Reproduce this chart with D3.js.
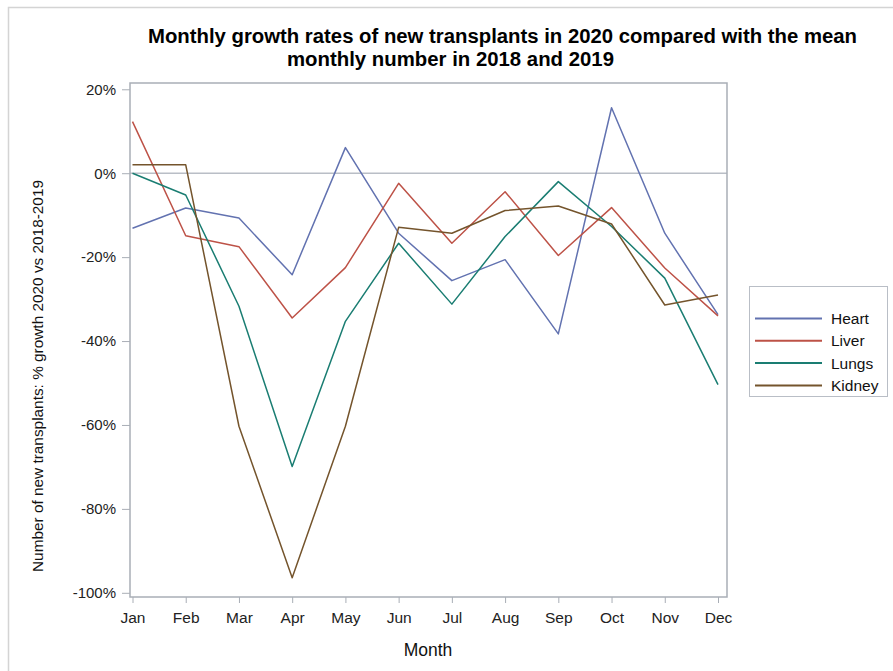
<!DOCTYPE html>
<html><head><meta charset="utf-8">
<script src="https://cdn.jsdelivr.net/npm/d3@7"></script>
<style>body{margin:0;background:#fff;} svg{display:block;font-family:"Liberation Sans",Arial,sans-serif;}</style>
</head><body>
<script>
const months = ["Jan","Feb","Mar","Apr","May","Jun","Jul","Aug","Sep","Oct","Nov","Dec"];
const heart  = [-13.1, -8.3, -10.7, -24.2, 6.1, -14.3, -25.6, -20.6, -38.3, 15.6, -14.3, -33.7];
const liver  = [12.3, -14.9, -17.5, -34.5, -22.5, -2.4, -16.7, -4.4, -19.6, -8.2, -22.6, -34.0];
const lungs  = [0.0, -5.2, -31.7, -69.9, -35.3, -16.7, -31.2, -15.1, -2.0, -12.7, -25.0, -50.4];
const kidney = [2.0, 2.0, -60.3, -96.4, -60.3, -12.9, -14.3, -8.9, -7.8, -12.1, -31.4, -29.0];
const seriesNames = ["Heart","Liver","Lungs","Kidney"];
const seriesColors = ["#6272b0","#bd5247","#1a7d72","#74542c"];
const yTicks = [20, 0, -20, -40, -60, -80, -100];

const series = [heart, liver, lungs, kidney].map((v,i)=>({name:seriesNames[i], color:seriesColors[i], values:v}));

const W = 893, H = 671;
const svg = d3.select("body").append("svg").attr("width", W).attr("height", H);

// outer border
svg.append("rect").attr("x",8.5).attr("y",7.5).attr("width",W+20).attr("height",H+20)
  .attr("fill","none").attr("stroke","#d4d4d4").attr("stroke-width",1.5);

const pL = 130, pR = 727, pT = 83, pB = 597;
const x = d3.scalePoint().domain(months).range([132.5, 718]);
const y = d3.scaleLinear().domain([-101, 21.5]).range([pB, pT]);

// title
svg.append("text").attr("x", 502.5).attr("y", 43).attr("text-anchor","middle")
  .attr("font-weight","bold").attr("font-size",20).attr("fill","#000")
  .attr("textLength",709).attr("lengthAdjust","spacingAndGlyphs")
  .text("Monthly growth rates of new transplants in 2020 compared with the mean");
svg.append("text").attr("x", 450.5).attr("y", 66).attr("text-anchor","middle")
  .attr("font-weight","bold").attr("font-size",20).attr("fill","#000")
  .attr("textLength",327).attr("lengthAdjust","spacingAndGlyphs")
  .text("monthly number in 2018 and 2019");

// zero reference line
svg.append("line").attr("x1",pL).attr("x2",pR).attr("y1",y(0)).attr("y2",y(0))
  .attr("stroke","#b9bec6").attr("stroke-width",1.5);

// axes
const yAxis = d3.axisLeft(y).tickValues(yTicks).tickFormat(d=>d+"%").tickSize(8).tickPadding(6);
const gy = svg.append("g").attr("transform",`translate(${pL},0)`).call(yAxis);
gy.select(".domain").remove();
gy.selectAll(".tick line").attr("stroke","#a9aeb6");
gy.selectAll(".tick text").attr("font-size",15).attr("fill","#222").attr("font-family","Liberation Sans, Arial, sans-serif");

const xAxis = d3.axisBottom(x).tickSize(6).tickPadding(9);
const gx = svg.append("g").attr("transform",`translate(0,${pB})`).call(xAxis);
gx.select(".domain").remove();
gx.selectAll(".tick line").attr("stroke","#a9aeb6");
gx.selectAll(".tick text").attr("font-size",15.5).attr("fill","#222").attr("font-family","Liberation Sans, Arial, sans-serif");

// frame
svg.append("rect").attr("x",pL).attr("y",pT).attr("width",pR-pL).attr("height",pB-pT)
  .attr("fill","none").attr("stroke","#a9aeb6").attr("stroke-width",1.5);

// axis labels
svg.append("text").attr("x", 428).attr("y", 656).attr("text-anchor","middle")
  .attr("font-size",17.5).attr("fill","#111").text("Month");
svg.append("text").attr("transform",`translate(43,376) rotate(-90)`).attr("text-anchor","middle")
  .attr("font-size",15).attr("fill","#111").attr("textLength",392).attr("lengthAdjust","spacingAndGlyphs")
  .text("Number of new transplants: % growth 2020 vs 2018-2019");

// lines
const line = d3.line().x((d,i)=>x(months[i])).y(d=>y(d));
svg.append("g").selectAll("path").data(series).join("path")
  .attr("d", d=>line(d.values)).attr("fill","none")
  .attr("stroke", d=>d.color).attr("stroke-width",1.5).attr("stroke-linejoin","round");

// legend
const lg = svg.append("g");
lg.append("rect").attr("x",749.5).attr("y",286.5).attr("width",138).attr("height",110)
  .attr("fill","#fff").attr("stroke","#b9bec6").attr("stroke-width",1);
const items = lg.selectAll("g.item").data(series).join("g").attr("class","item")
  .attr("transform",(d,i)=>`translate(0,${318.5 + i*22.3})`);
items.append("line").attr("x1",755).attr("x2",822).attr("y1",0).attr("y2",0)
  .attr("stroke",d=>d.color).attr("stroke-width",2);
items.append("text").attr("x",831).attr("y",5.5).attr("font-size",15.5).attr("fill","#111").text(d=>d.name);
</script>
</body></html>
